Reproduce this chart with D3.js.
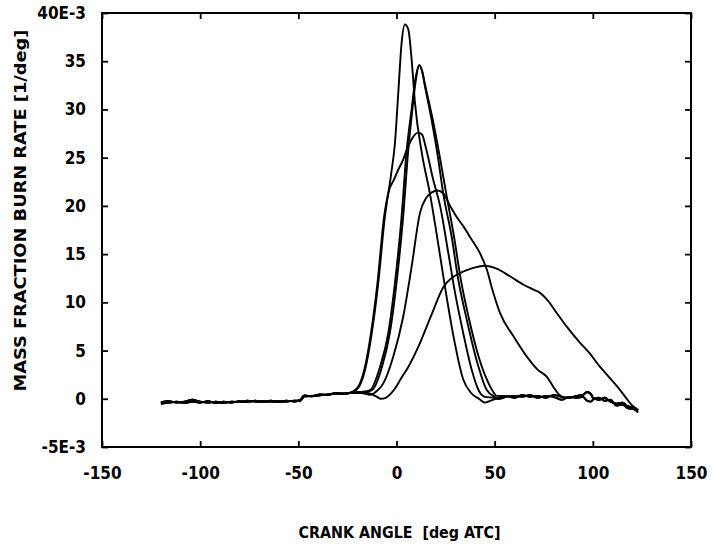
<!DOCTYPE html>
<html>
<head>
<meta charset="utf-8">
<script src="https://cdn.jsdelivr.net/npm/d3@7"></script>
<style>
  html, body { margin: 0; padding: 0; background: #fff; }
  svg { display: block; }
  text { font-family: "DejaVu Sans Condensed", "DejaVu Sans", sans-serif; fill: #000; }
</style>
</head>
<body>
<svg id="chart" width="713" height="547"></svg>
<script>
// ---------------- data ----------------
const xTickValues = [-150, -100, -50, 0, 50, 100, 150];
const xTickLabels = ["-150", "-100", "-50", "0", "50", "100", "150"];
const yTickValues = [-5, 0, 5, 10, 15, 20, 25, 30, 35, 40];
const yTickLabels = ["-5E-3", "0", "5", "10", "15", "20", "25", "30", "35", "40E-3"];
const xTitle = "CRANK ANGLE  [deg ATC]";
const yTitle = "MASS FRACTION BURN RATE [1/deg]";

// shared motoring baseline before combustion (crank angle, rate x1E-3)
const leftBaseA = [[-120,-0.35],[-116,-0.25],[-112,-0.4],[-108,-0.3],[-104,-0.1],[-100,-0.3],[-96,-0.4],[-92,-0.3],[-88,-0.45],[-84,-0.3],[-80,-0.35],[-76,-0.2],[-72,-0.3],[-68,-0.25],[-64,-0.3],[-60,-0.25],[-56,-0.3],[-52,-0.2],[-49,-0.2],[-47,0.25],[-43,0.3],[-39,0.35],[-35,0.45],[-31,0.5],[-27,0.55]];
const leftBaseB = [[-120,-0.5],[-116,-0.4],[-112,-0.3],[-108,-0.45],[-104,-0.3],[-100,-0.4],[-96,-0.25],[-92,-0.45],[-88,-0.3],[-84,-0.4],[-80,-0.25],[-76,-0.35],[-72,-0.2],[-68,-0.35],[-64,-0.2],[-60,-0.35],[-56,-0.2],[-52,-0.3],[-49,-0.1],[-47,0.35],[-43,0.25],[-39,0.45],[-35,0.4],[-31,0.6],[-27,0.5]];
// shared baseline after combustion
const rightBaseA = [[52,0.1],[56,0.3],[60,0.1],[64,0.4],[68,0.2],[72,0.3],[76,0.1],[80,0.4],[84,0.2],[88,0.1],[92,0.3],[95,0.4],[97,0.7],[99,0.5],[100,0.1],[103,-0.1],[106,0.1],[109,-0.3],[112,-0.5],[115,-0.4],[118,-0.8],[121,-0.9],[123,-1.2]];
const rightBaseB = [[52,0.0],[56,0.2],[60,0.3],[64,0.2],[68,0.4],[72,0.1],[76,0.3],[80,0.2],[84,-0.1],[88,0.2],[92,0.1],[95,0.2],[97,-0.2],[99,-0.3],[100,-0.1],[103,0.1],[106,-0.2],[109,-0.1],[112,-0.7],[115,-0.6],[118,-1.0],[121,-1.1],[123,-1.4]];

// combustion parts of the individual burn-rate curves
const curveA = [[-24,0.6],[-20,1.0],[-16,3],[-12.6,6.8],[-9.3,12],[-5.9,18.9],[-2.8,23.2],[-0.8,26.5],[0.9,31.7],[2.6,36.9],[4.3,38.8],[6,38.3],[7.7,35.2],[9.4,30.7],[12.8,25.6],[17,21.3],[22,15.1],[24.7,11.6],[29,6.5],[34,2],[38,0.6],[42,0],[45,-0.4],[48,-0.2]];
const curveB = [[-24,0.6],[-18,0.7],[-13.5,0.9],[-8.4,3.3],[-4.2,6.8],[-0.8,12],[2.6,18.9],[5.2,25.8],[7.7,30],[9.5,33],[11.6,34.6],[13,34],[14.5,32.4],[17.9,28.9],[21.3,24.8],[23.8,21.3],[28.1,16.8],[31.5,12.3],[35.8,8.2],[40.8,4],[46,0.9],[50,0.2]];
const curveB2 = [[-24,0.6],[-18,0.6],[-12.5,0.9],[-7.4,3.3],[-3.4,6.8],[0,12],[3.4,18.9],[6,25.8],[8.2,30.2],[9.8,33],[11.6,34.6],[13,34],[14.7,32.4],[18.5,28.9],[22.3,24.8],[25.3,21.3],[29.3,16.8],[32.8,12.3],[36.8,8.4],[41.5,4.6],[46,2],[49,0.8],[51,0.3]];
const curveC = [[-24,0.6],[-20,1.1],[-16.4,3],[-13,6.8],[-9.7,12],[-6.3,18.9],[-3.5,21.8],[-1.6,22.6],[1,23.8],[3.4,24.8],[5.2,25.8],[8,27],[11,27.6],[13,27.4],[15,26],[18.7,22.7],[22.2,20],[26.4,15.1],[29.8,11],[34,6.8],[38.3,3],[42,0.8],[45,0.2],[50,0.1]];
const curveD = [[-24,0.6],[-18,0.6],[-13.5,0.4],[-10,0.8],[-6.7,1.6],[-1.6,4.4],[3.4,8.5],[7.7,13.7],[12,19.3],[15,20.8],[18,21.4],[21,21.6],[23.8,21.3],[27.3,20],[30.5,18.9],[34,17.9],[38,16.6],[42.5,15.1],[46,13.4],[49,11.2],[52.7,8.9],[59.5,6.5],[66.3,4.4],[72,3],[76.5,2.3],[80,1.2],[83,0.4],[86,0.1]];
const curveE = [[-24,0.6],[-18,0.7],[-13,0.5],[-10,0.2],[-8,0.0],[-5.5,0.1],[-3,0.5],[0,1.3],[2,2],[6,3.3],[12,5.8],[18,8.8],[23.9,11.6],[28,12.5],[32,13],[38,13.5],[45,13.8],[51,13.5],[57.8,12.7],[65,11.8],[70,11.3],[73,11],[77,10.2],[81.6,8.9],[87,7.4],[93.5,5.8],[98,4.8],[103.7,3.3],[108,2.3],[113.9,0.9],[118,-0.2],[120.5,-0.8],[123,-1.2]];

// ---------------- build series ----------------
function assemble(left, mid, right) {
  const lastX = mid[mid.length - 1][0];
  return left.concat(mid, right.filter(p => p[0] > lastX + 1));
}
const series = [
  assemble(leftBaseA, curveA, rightBaseA),
  assemble(leftBaseB, curveB, rightBaseB),
  assemble(leftBaseA, curveB2, rightBaseA),
  assemble(leftBaseB, curveC, rightBaseB),
  assemble(leftBaseA, curveD, rightBaseA),
  assemble(leftBaseB, curveE, rightBaseB)
];

// ---------------- drawing ----------------
const svg = d3.select("#chart");
const L = 102, R = 691, T = 13, B = 447;
const x = d3.scaleLinear().domain([-150, 150]).range([L, R]);
const y = d3.scaleLinear().domain([-5, 40]).range([B, T]);

const line = d3.line()
  .x(d => x(d[0]))
  .y(d => y(d[1]))
  .curve(d3.curveMonotoneX);

svg.append("g")
  .selectAll("path")
  .data(series)
  .join("path")
  .attr("d", line)
  .attr("fill", "none")
  .attr("stroke", "#000")
  .attr("stroke-width", 1.9)
  .attr("stroke-linejoin", "round");

// frame
svg.append("rect")
  .attr("x", L).attr("y", T)
  .attr("width", R - L).attr("height", B - T)
  .attr("fill", "none")
  .attr("stroke", "#000")
  .attr("stroke-width", 2);

const fmtX = (d) => xTickLabels[xTickValues.indexOf(d)];
const fmtY = (d) => yTickLabels[yTickValues.indexOf(d)];

// bottom axis
const gx = svg.append("g")
  .attr("transform", `translate(0,${B})`)
  .call(d3.axisBottom(x).tickValues(xTickValues).tickSize(-6).tickPadding(20).tickFormat(fmtX));
// top axis (ticks only)
const gxt = svg.append("g")
  .attr("transform", `translate(0,${T})`)
  .call(d3.axisTop(x).tickValues(xTickValues).tickSize(-6).tickFormat(""));
// left axis
const gy = svg.append("g")
  .attr("transform", `translate(${L},0)`)
  .call(d3.axisLeft(y).tickValues(yTickValues).tickSize(-6).tickPadding(16).tickFormat(fmtY));
// right axis (ticks only)
const gyr = svg.append("g")
  .attr("transform", `translate(${R},0)`)
  .call(d3.axisRight(y).tickValues(yTickValues).tickSize(-6).tickFormat(""));

[gx, gxt, gy, gyr].forEach(g => {
  g.select(".domain").remove();
  g.selectAll(".tick line").attr("stroke", "#000").attr("stroke-width", 1.8);
});
[gx, gy].forEach(g => g.selectAll(".tick text")
  .attr("font-size", 17).attr("font-weight", "bold")
  .attr("font-family", "'DejaVu Sans Condensed', sans-serif"));

// axis titles
svg.append("text")
  .attr("x", (L + R) / 2 + 3)
  .attr("y", 538)
  .attr("text-anchor", "middle")
  .attr("font-size", 15)
  .attr("font-weight", "bold")
  .attr("textLength", 202)
  .attr("lengthAdjust", "spacingAndGlyphs")
  .style("white-space", "pre")
  .text(xTitle);

svg.append("text")
  .attr("transform", `translate(26,${(T + 400) / 2 + 4}) rotate(-90)`)
  .attr("text-anchor", "middle")
  .attr("font-size", 15)
  .attr("font-weight", "bold")
  .attr("textLength", 362)
  .attr("lengthAdjust", "spacingAndGlyphs")
  .text(yTitle);
</script>
</body>
</html>
